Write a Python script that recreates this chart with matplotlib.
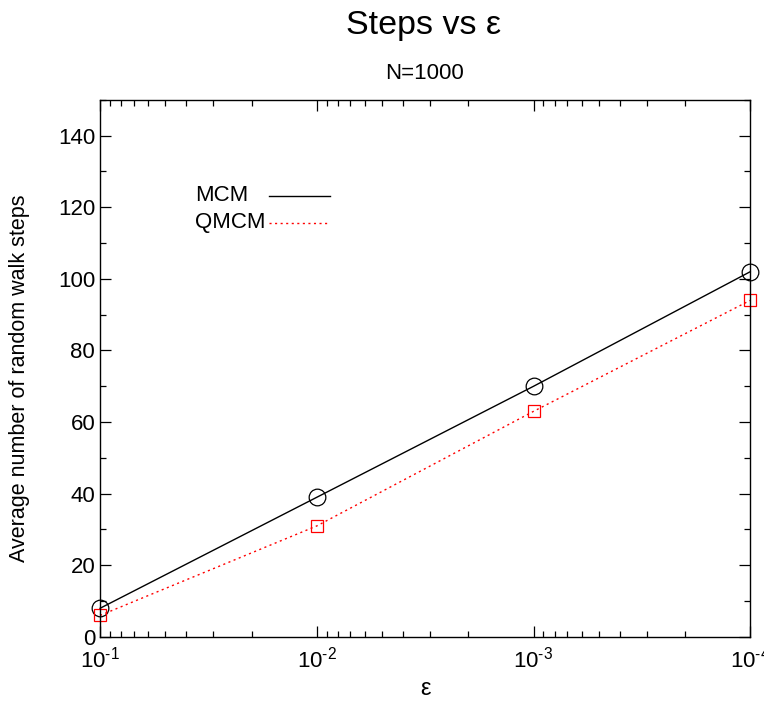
import numpy as np
import matplotlib
matplotlib.use("Agg")
import matplotlib.pyplot as plt

plt.rcParams['font.family'] = ['Liberation Sans', 'DejaVu Sans']
plt.rcParams['mathtext.fontset'] = 'custom'
plt.rcParams['mathtext.rm'] = 'Liberation Sans'
plt.rcParams['mathtext.it'] = 'Liberation Sans:italic'

# data
eps = [1e-1, 1e-2, 1e-3, 1e-4]
mcm_steps = [8, 39, 70, 102]
qmcm_steps = [6, 31, 63, 94]
series_labels = ['MCM', 'QMCM']
xtick_labels = [r'$10^{\text{-}1}$', r'$10^{\text{-}2}$', r'$10^{\text{-}3}$', r'$10^{\text{-}4}$']

fig = plt.figure(figsize=(7.64, 7.03), dpi=100)
ax = fig.add_axes([0.131, 0.094, 0.851, 0.764])

dotted = (0, (1.5, 2.5))
ax.plot(eps, mcm_steps, color='black', lw=1.0, marker='o', markersize=12,
        markerfacecolor='none', markeredgecolor='black', markeredgewidth=0.9, clip_on=False)
ax.plot(eps, qmcm_steps, color='red', lw=1.0, ls=dotted, marker='s', markersize=9,
        markerfacecolor='none', markeredgecolor='red', markeredgewidth=0.9, clip_on=False)

ax.set_xscale('log')
ax.set_xlim(1e-1, 1e-4)
ax.set_xticks(eps, xtick_labels)
ax.set_ylim(0, 150)
ax.set_yticks(np.arange(0, 141, 20))
ax.set_yticks(np.arange(0, 151, 10), minor=True)

ax.tick_params(which='both', direction='in', top=True, right=True, labelsize=16)
ax.tick_params(which='major', length=8, width=0.9)
ax.tick_params(which='minor', length=4, width=0.9)
ax.tick_params(axis='x', pad=7)
for s in ax.spines.values():
    s.set_linewidth(1.0)

ax.set_ylabel('Average number of random walk steps', fontsize=15.5)
ax.yaxis.set_label_coords(-0.108, 0.482)
ax.set_xlabel('ε', fontsize=17, labelpad=4)

fig.text(0.554, 0.964, 'Steps vs ε', fontsize=24.5, ha='center', va='center')
fig.text(0.556, 0.896, 'N=1000', fontsize=16, ha='center', va='center')

# gnuplot style key: label on the left, line sample on the right
key_y = [0.821, 0.771]
key_styles = [dict(color='black', lw=1.0), dict(color='red', lw=1.0, ls=dotted)]
for lab, yk, st in zip(series_labels, key_y, key_styles):
    ax.text(0.146, yk, lab, transform=ax.transAxes, fontsize=16, ha='left', va='center')
    ax.plot([0.26, 0.354], [yk, yk], transform=ax.transAxes, **st)

fig.savefig('out.png', dpi=100)
